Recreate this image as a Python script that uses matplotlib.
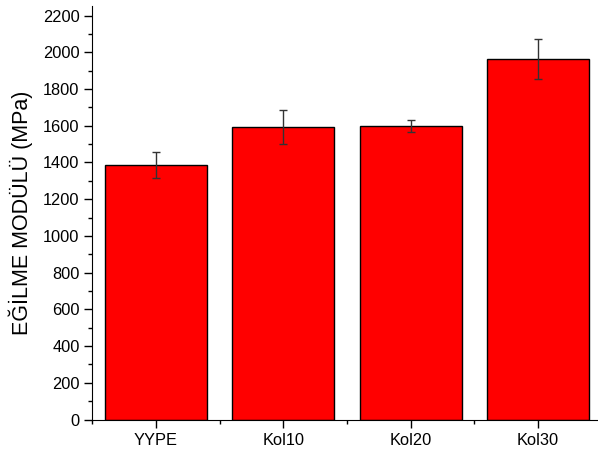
import matplotlib
matplotlib.use("Agg")
import matplotlib.pyplot as plt
from matplotlib.ticker import MultipleLocator, FixedLocator

plt.rcParams["font.family"] = ["Liberation Sans", "DejaVu Sans"]

# data
samples = ["YYPE", "Kol10", "Kol20", "Kol30"]
modulus = [1384, 1593, 1597, 1964]
modulus_err = [71, 91, 33, 107]

fig = plt.figure(figsize=(5.98, 4.57), dpi=100)
ax = fig.add_axes([0.154, 0.082, 0.844, 0.904])

x = list(range(len(samples)))
ax.bar(x, modulus, width=0.8, color="#ff0000", edgecolor="black", linewidth=1.0,
       yerr=modulus_err, capsize=3,
       error_kw=dict(ecolor="#333333", elinewidth=1.0, capthick=1.0))

ax.set_xlim(-0.5, 3.46)
ax.set_ylim(0, 2250)
ax.set_xticks(x)
ax.set_xticklabels(samples)
ax.xaxis.set_minor_locator(FixedLocator([-0.5, 0.5, 1.5, 2.5]))
ax.yaxis.set_major_locator(FixedLocator(range(0, 2201, 200)))
ax.yaxis.set_minor_locator(MultipleLocator(100))

ax.spines["top"].set_visible(False)
ax.spines["right"].set_visible(False)
ax.tick_params(axis="both", which="major", direction="out", length=6, width=1,
               labelsize=11.8)
ax.tick_params(axis="y", which="major", pad=3)
ax.tick_params(axis="both", which="minor", direction="out", length=3, width=1)
ax.set_ylabel("EĞİLME MODÜLÜ (MPa)", fontsize=15.5)
ax.yaxis.set_label_coords(-0.118, 0.5)

fig.savefig("out.png", dpi=100)
